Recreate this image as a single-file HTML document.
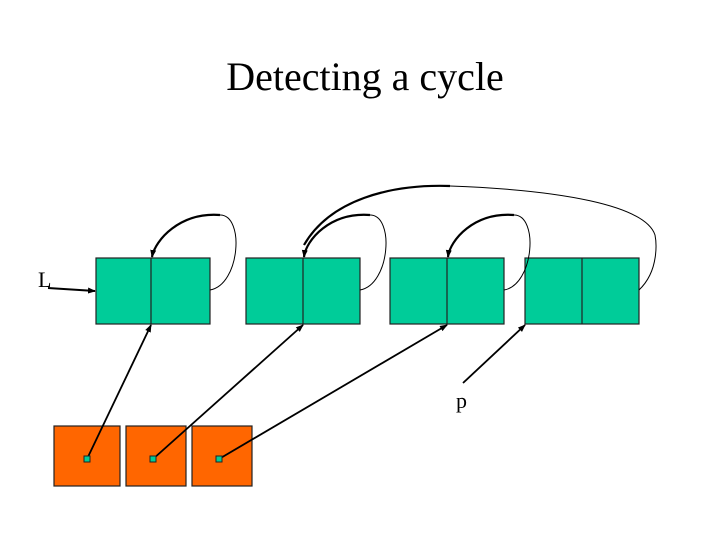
<!DOCTYPE html>
<html><head><style>
html,body{margin:0;padding:0;background:#fff;}
svg{display:block;}
</style></head><body>
<svg width="720" height="540" viewBox="0 0 720 540" xmlns="http://www.w3.org/2000/svg">
<defs>
<marker id="a" markerWidth="8" markerHeight="8" refX="7" refY="4" orient="auto" markerUnits="userSpaceOnUse">
<path d="M0,1 L8,4 L0,7 z" fill="#000"/>
</marker>
</defs>
<text x="365" y="90" text-anchor="middle" font-family="Liberation Serif, serif" font-size="40">Detecting a cycle</text>
<g fill="#00cc99" stroke="#222" stroke-width="1.2">
<rect x="96" y="258" width="114" height="66"/>
<rect x="246" y="258" width="114" height="66"/>
<rect x="390" y="258" width="114" height="66"/>
<rect x="525" y="258" width="114" height="66"/>
</g>
<g stroke="#222" stroke-width="1.2">
<line x1="151" y1="258" x2="151" y2="324"/>
<line x1="303" y1="258" x2="303" y2="324"/>
<line x1="447" y1="258" x2="447" y2="324"/>
<line x1="582" y1="258" x2="582" y2="324"/>
</g>
<g fill="#ff6600" stroke="#222" stroke-width="1.2">
<rect x="54" y="426" width="66" height="60"/>
<rect x="126" y="426" width="60" height="60"/>
<rect x="192" y="426" width="60" height="60"/>
</g>
<g fill="none" stroke="#000">
<!-- self loops thin parts -->
<path d="M210,290 C240,285 245,215 220,215" stroke-width="1"/>
<path d="M360,290 C390,285 395,215 370,215" stroke-width="1"/>
<path d="M504,290 C534,285 539,215 514,215" stroke-width="1"/>
<path d="M639,290 C660,270 656,240 655,235 C645,205 560,190 450,186" stroke-width="1"/>
<!-- thick parts -->
<path d="M220,215 C180,212 155,240 152,257" stroke-width="2.2" marker-end="url(#a)"/>
<path d="M370,215 C330,212 306,240 304,257" stroke-width="2.2" marker-end="url(#a)"/>
<path d="M514,215 C474,212 450,240 448,257" stroke-width="2.2" marker-end="url(#a)"/>
<path d="M450,186 C390,184 330,200 304,245" stroke-width="2.2"/>
<!-- L arrow -->
<path d="M48,288 L95,291" stroke-width="2" marker-end="url(#a)"/>
<!-- pointers -->
<path d="M87,459 L151,325" stroke-width="1.8" marker-end="url(#a)"/>
<path d="M153,459 L303,325" stroke-width="1.8" marker-end="url(#a)"/>
<path d="M219,459 L447,325" stroke-width="1.8" marker-end="url(#a)"/>
<path d="M463,383 L525,325" stroke-width="1.8" marker-end="url(#a)"/>
</g>
<g fill="#00cc99" stroke="#222" stroke-width="1">
<rect x="84" y="456" width="6" height="6"/>
<rect x="150" y="456" width="6" height="6"/>
<rect x="216" y="456" width="6" height="6"/>
</g>
<text x="38" y="287" font-family="Liberation Serif, serif" font-size="22">L</text>
<text x="456" y="408" font-family="Liberation Serif, serif" font-size="22">p</text>
</svg>
</body></html>
